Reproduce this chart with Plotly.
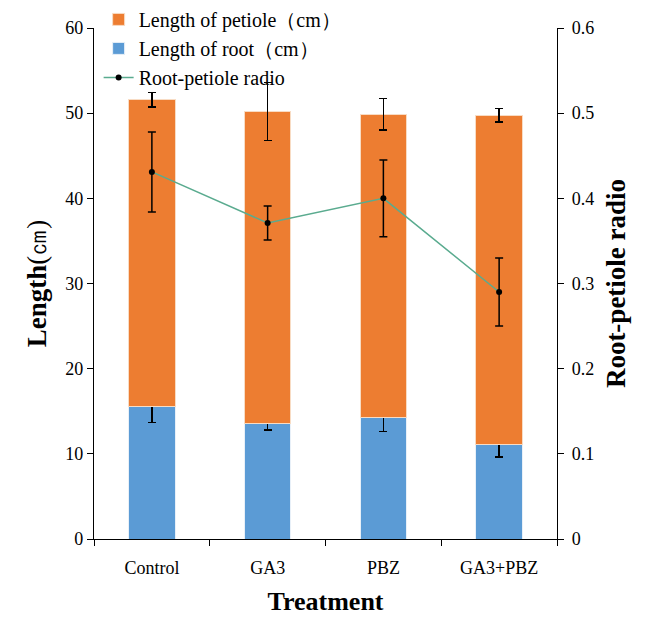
import plotly.graph_objects as go

categories = ["Control", "GA3", "PBZ", "GA3+PBZ"]
root_len = [15.5, 13.6, 14.3, 11.1]
root_err = [1.8, 0.8, 1.7, 1.5]
petiole_len = [36.05, 36.6, 35.6, 38.65]
total_err = [0.85, 3.4, 1.85, 0.8]
ratio = [0.431, 0.371, 0.400, 0.290]
ratio_err = [0.047, 0.020, 0.045, 0.040]

FONT = "Liberation Serif"
fig = go.Figure()
fig.add_trace(go.Bar(
    x=categories, y=root_len, name="Length of root（cm）",
    marker=dict(color="#5B9BD5", line=dict(color="#E8F0F8", width=1)),
    error_y=dict(type="data", array=root_err, color="black", thickness=1.5, width=4),
    width=0.4, legendrank=2,
))
fig.add_trace(go.Bar(
    x=categories, y=petiole_len, name="Length of petiole（cm）",
    marker=dict(color="#ED7D31", line=dict(color="#F8DCC4", width=1)),
    error_y=dict(type="data", array=total_err, color="black", thickness=1.5, width=4),
    width=0.4, legendrank=1,
))
fig.add_trace(go.Scatter(
    x=categories, y=ratio, name="Root-petiole radio", yaxis="y2",
    mode="lines+markers",
    line=dict(color="#5AAB8F", width=1.5),
    marker=dict(color="black", size=6),
    error_y=dict(type="data", array=ratio_err, color="black", thickness=1.5, width=4),
    legendrank=3,
))

fig.update_layout(
    width=657, height=623,
    margin=dict(l=94, r=100, t=28, b=84, autoexpand=False),
    barmode="stack",
    plot_bgcolor="white", paper_bgcolor="white",
    font=dict(family=FONT, color="black", size=18),
    showlegend=True,
    legend=dict(x=0.01, y=1.055, xanchor="left", yanchor="top", traceorder="normal",
                font=dict(size=20, family=FONT), tracegroupgap=0,
                bgcolor="rgba(0,0,0,0)", itemwidth=30),
    xaxis=dict(
        range=[-0.5, 3.5], showline=True, linecolor="black", linewidth=1.2,
        ticks="outside", tickson="boundaries", ticklen=6, tickcolor="black",
        ticklabelstandoff=12,
        title=dict(text="<b>Treatment</b>", font=dict(size=26, family=FONT), standoff=15),
        tickfont=dict(size=18, family=FONT),
    ),
    yaxis=dict(
        range=[0, 60], dtick=10, showline=True, linecolor="black", linewidth=1.2,
        ticks="outside", ticklen=6, tickcolor="black", showgrid=False, zeroline=False,
        tickfont=dict(size=18, family=FONT),
        title=dict(text="<b>Length</b>(㎝)", font=dict(size=27, family=FONT), standoff=10),
    ),
    yaxis2=dict(
        range=[0, 0.6], dtick=0.1, overlaying="y", side="right",
        showline=True, linecolor="black", linewidth=1.2,
        ticks="outside", ticklen=6, tickcolor="black", showgrid=False, zeroline=False,
        tickfont=dict(size=18, family=FONT), ticklabelstandoff=4,
        tickformat=".1~f",
        title=dict(text="<b>Root-petiole radio</b>", font=dict(size=27, family=FONT), standoff=12),
    ),
)
fig.write_html("out.html")
